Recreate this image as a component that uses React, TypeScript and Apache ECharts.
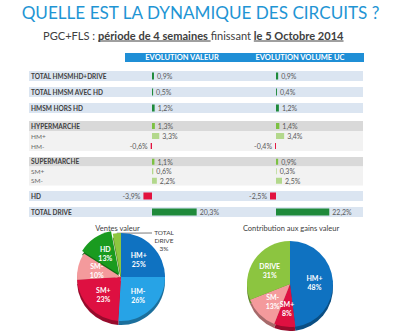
import React, { useEffect, useRef } from "react";
import * as echarts from "echarts";

// ---------- data ----------
const titleText = "QUELLE EST LA DYNAMIQUE DES CIRCUITS ?";
const subtitleParts: [string, boolean][] = [
  ["PGC+FLS : ", false],
  ["période de 4 semaines ", true],
  ["finissant ", false],
  ["le 5 Octobre 2014", true],
];
const columnHeaders = ["EVOLUTION VALEUR", "EVOLUTION VOLUME UC"];
const rowLabels = [
  "TOTAL HMSMHD+DRIVE",
  "TOTAL HMSM AVEC HD",
  "HMSM HORS HD",
  "HYPERMARCHE",
  "HM+",
  "HM-",
  "SUPERMARCHE",
  "SM+",
  "SM-",
  "HD",
  "TOTAL DRIVE",
];
const rowGroupSizes = [3, 3, 3, 2];
const evolutionValeur = [0.9, 0.5, 1.2, 1.3, 3.3, -0.6, 1.1, 0.6, 2.2, -3.9, 20.3];
const evolutionVolumeUC = [0.9, 0.4, 1.2, 1.4, 3.4, -0.4, 0.9, 0.3, 2.5, -2.5, 22.2];
const pieTitles = ["Ventes valeur", "Contribution aux gains valeur"];
const ventesLabels = ["HM+", "HM-", "SM+", "SM-", "HD", "TOTAL DRIVE"];
const ventesShares = [25, 26, 23, 10, 13, 3];
const contribLabels = ["HM+", "SM+", "SM-", "DRIVE"];
const contribShares = [48, 8, 13, 31];

// ---------- styles / layout ----------
const FONT = "Lato";
const TEXT = "#404040";
const groupLayout = [
  { top: 68, slot: 16, striped: false },
  { top: 121, slot: 10, striped: true },
  { top: 157, slot: 9.5, striped: true },
  { top: 188, slot: 16, striped: false },
];
const pieColors: Record<string, string> = {
  "HM+": "#0f72c1",
  "HM-": "#27a3e6",
  "SM+": "#de1041",
  "SM-": "#f49a9c",
  HD: "#1a9b1f",
  "TOTAL DRIVE": "#8dc63f",
  DRIVE: "#8cc540",
};
function darken(hex: string, f = 0.68) {
  const n = parseInt(hex.slice(1), 16);
  const r = Math.round(((n >> 16) & 255) * f);
  const g = Math.round(((n >> 8) & 255) * f);
  const b = Math.round((n & 255) * f);
  return `rgb(${r},${g},${b})`;
}
const fmtPct = (v: number) => v.toFixed(1).replace(".", ",") + "%";

const measureCtx =
  typeof document !== "undefined" ? document.createElement("canvas").getContext("2d") : null;
function measure(text: string, size: number, bold: boolean) {
  if (!measureCtx) return text.length * size * 0.5;
  measureCtx.font = `${bold ? "bold " : ""}${size}px ${FONT}`;
  return measureCtx.measureText(text).width;
}

function buildOption() {
  const grid: any[] = [];
  const xAxis: any[] = [];
  const yAxis: any[] = [];
  const series: any[] = [];
  let start = 0;
  rowGroupSizes.forEach((size, g) => {
    const L = groupLayout[g];
    const rows = rowLabels.slice(start, start + size);
    const idx = rows.map((_, i) => start + i);
    const height = size * L.slot;
    const columns = [
      { left: 29, width: 334, min: 0, max: 1, values: null as number[] | null },
      { left: 130, width: 88, min: -10, max: 30, values: evolutionValeur },
      { left: 252, width: 96, min: -10, max: 30, values: evolutionVolumeUC },
    ];
    columns.forEach((col) => {
      const gi = grid.length;
      grid.push({ left: col.left, width: col.width, top: L.top, height });
      xAxis.push({ type: "value", gridIndex: gi, min: col.min, max: col.max, show: false });
      yAxis.push({ type: "category", gridIndex: gi, data: rows, inverse: true, show: false });
      if (!col.values) {
        series.push({
          type: "bar",
          xAxisIndex: gi,
          yAxisIndex: gi,
          silent: true,
          z: 1,
          barWidth: L.striped ? "100%" : 10,
          data: rows.map((name, i) => {
            const header = !L.striped || i === 0;
            return {
              value: 1,
              itemStyle: {
                color: L.striped ? (i === 0 ? "#d9d9d9" : "#f2f2f2") : "#dbe5f1",
              },
              label: {
                show: true,
                position: "insideLeft",
                distance: 2,
                formatter: "{b}",
                fontFamily: FONT,
                fontSize: 6.5,
                fontWeight: header ? "bold" : "normal",
                color: header ? TEXT : "#6a6a6a",
              },
            };
          }),
        });
      } else {
        const vals = col.values;
        series.push({
          type: "bar",
          xAxisIndex: gi,
          yAxisIndex: gi,
          silent: true,
          z: 2,
          barWidth: L.striped ? 6 : 7,
          data: idx.map((k, i) => {
            const v = vals[k];
            let color = "#1f8a3b";
            if (v < 0) color = "#e2123f";
            else if (L.striped) color = i === 0 ? "#7cc142" : "#b3d88c";
            return {
              value: v,
              itemStyle: { color },
              label: {
                show: true,
                position: v < 0 ? "left" : "right",
                distance: 3,
                formatter: () => fmtPct(v),
                fontFamily: FONT,
                fontSize: 7,
                color: "#595959",
              },
            };
          }),
        });
      }
    });
    start += size;
  });

  // pies
  const makePie = (
    labels: string[],
    shares: number[],
    center: [number, number],
    radius: number,
    exploded: string[],
    rim: boolean
  ) => ({
    type: "pie",
    center: rim ? [center[0], center[1] + 4] : center,
    radius,
    startAngle: 90,
    clockwise: true,
    silent: true,
    z: rim ? 1 : 2,
    selectedMode: "multiple",
    selectedOffset: 3,
    label: rim
      ? { show: false }
      : {
          show: true,
          position: "inside",
          fontFamily: FONT,
          fontSize: 7,
          fontWeight: "bold",
          lineHeight: 9,
          color: "#ffffff",
          formatter: (p: any) => `${p.name}\n${p.value}%`,
        },
    labelLine: { show: false },
    data: labels.map((name, i) => {
      const item: any = {
        name,
        value: shares[i],
        selected: exploded.includes(name),
        itemStyle: { color: rim ? darken(pieColors[name]) : pieColors[name] },
      };
      if (!rim && name === "TOTAL DRIVE") {
        item.label = {
          show: true,
          position: "outside",
          color: TEXT,
          fontWeight: "normal",
          fontSize: 6.5,
          lineHeight: 8,
          formatter: (p: any) => `${p.name.replace(" ", "\n")}\n${p.value}%`,
        };
        item.labelLine = { show: true, length: 6, length2: 10, lineStyle: { color: "#595959", width: 0.8 } };
      }
      return item;
    }),
    labelLayout: rim
      ? undefined
      : (p: any) => {
          if (labels[p.dataIndex] !== "TOTAL DRIVE") return {};
          const s = p.labelLinePoints ? p.labelLinePoints[0] : [118, 238];
          return {
            x: 164,
            y: 240,
            align: "center",
            verticalAlign: "middle",
            labelLinePoints: [s, [151, 233], [152, 233]],
          };
        },
  });
  const leftCenter: [number, number] = [121, 277];
  const rightCenter: [number, number] = [290, 284];
  series.push(makePie(ventesLabels, ventesShares, leftCenter, 44, ["HD"], true));
  series.push(makePie(ventesLabels, ventesShares, leftCenter, 44, ["HD"], false));
  series.push(makePie(contribLabels, contribShares, rightCenter, 43, [], true));
  series.push(makePie(contribLabels, contribShares, rightCenter, 43, [], false));

  // graphic texts
  const graphic: any[] = [];
  const titleSize = Math.min(24, (20 * 359) / measure(titleText, 20, false));
  graphic.push({
    type: "text",
    x: 200.5,
    y: 12,
    style: {
      text: titleText,
      fontFamily: FONT,
      fontSize: titleSize,
      fill: "#1f95d4",
      align: "center",
      verticalAlign: "middle",
    },
  });
  const baseW = subtitleParts.reduce((a, [t, b]) => a + measure(t, 11, b), 0);
  const subSize = (11 * 301) / baseW;
  let sx = 193.5 - 301 / 2;
  subtitleParts.forEach(([t, b]) => {
    const w = measure(t, subSize, b);
    graphic.push({
      type: "text",
      x: sx,
      y: 35,
      style: {
        text: t,
        fontFamily: FONT,
        fontSize: subSize,
        fontWeight: b ? "bold" : "normal",
        fill: TEXT,
        align: "left",
        verticalAlign: "middle",
      },
    });
    if (b) {
      graphic.push({
        type: "line",
        shape: { x1: sx, y1: 41, x2: sx + w, y2: 41 },
        style: { stroke: TEXT, lineWidth: 1 },
      });
    }
    sx += w;
  });
  graphic.push({
    type: "rect",
    shape: { x: 125, y: 53, width: 239, height: 9 },
    style: { fill: "#1f8fd6" },
  });
  [182, 300].forEach((cx, i) =>
    graphic.push({
      type: "text",
      x: cx,
      y: 57.5,
      style: {
        text: columnHeaders[i],
        fontFamily: FONT,
        fontSize: 7.5,
        fontWeight: "bold",
        fill: "#ffffff",
        align: "center",
        verticalAlign: "middle",
      },
    })
  );
  [117.5, 291].forEach((cx, i) =>
    graphic.push({
      type: "text",
      x: cx,
      y: 228,
      style: {
        text: pieTitles[i],
        fontFamily: FONT,
        fontSize: 7.5,
        fill: TEXT,
        align: "center",
        verticalAlign: "middle",
      },
    })
  );

  return {
    animation: false,
    backgroundColor: "#ffffff",
    grid,
    xAxis,
    yAxis,
    series,
    graphic,
  };
}

export default function App() {
  const ref = useRef<HTMLDivElement>(null);
  useEffect(() => {
    if (!ref.current) return;
    const chart = echarts.init(ref.current, null, { renderer: "svg" });
    chart.setOption(buildOption() as any);
    return () => chart.dispose();
  }, []);
  return (
    <div
      ref={ref}
      style={{ position: "fixed", left: 0, top: 0, width: 400, height: 333 }}
    />
  );
}
